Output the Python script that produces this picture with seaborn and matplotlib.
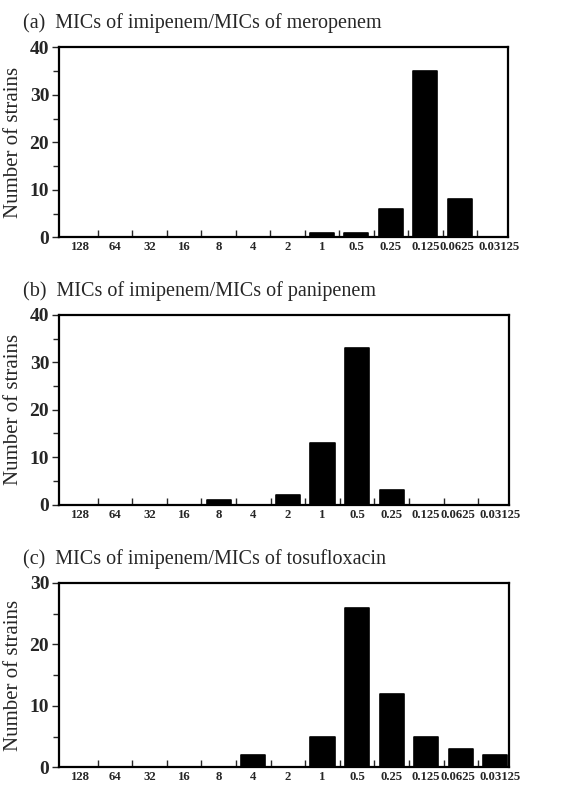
import pandas as pd
import matplotlib.pyplot as plt
import matplotlib.transforms as mtransforms
import seaborn as sns
from matplotlib.ticker import MultipleLocator, FixedLocator

# data
ratios = ["128", "64", "32", "16", "8", "4", "2", "1", "0.5", "0.25", "0.125", "0.0625", "0.03125"]
meropenem = [0, 0, 0, 0, 0, 0, 0, 1, 1, 6, 35, 8, 0]
panipenem = [0, 0, 0, 0, 1, 0, 2, 13, 33, 3, 0, 0, 0]
tosufloxacin = [0, 0, 0, 0, 0, 2, 0, 5, 26, 12, 5, 3, 2]

titles = ["(a)  MICs of imipenem/MICs of meropenem",
          "(b)  MICs of imipenem/MICs of panipenem",
          "(c)  MICs of imipenem/MICs of tosufloxacin"]
ymax = [40, 40, 30]

sns.set_style("ticks")
plt.rcParams['font.family'] = ['Liberation Serif', 'DejaVu Serif']

fig = plt.figure(figsize=(5.78, 7.91), dpi=100)

# axes boxes in figure coords (left, bottom, width, height)
boxes = [(0.102, 0.700, 0.777, 0.240),
         (0.102, 0.362, 0.779, 0.240),
         (0.102, 0.030, 0.779, 0.233)]
title_y = [0.971, 0.632, 0.293]

for series, title, top, box, ty in zip([meropenem, panipenem, tosufloxacin],
                                        titles, ymax, boxes, title_y):
    ax = fig.add_axes(box)
    df = pd.DataFrame({"ratio": ratios, "count": series})
    sns.barplot(data=df, x="ratio", y="count", order=ratios, color="black",
                width=0.7, saturation=1, ax=ax)
    for p in ax.patches:
        p.set_edgecolor("black")
        p.set_linewidth(1.2)
        p.set_joinstyle("round")

    ax.set_xlim(-0.62, 12.4)
    ax.set_ylim(0, top)
    ax.yaxis.set_major_locator(MultipleLocator(10))
    ax.yaxis.set_minor_locator(MultipleLocator(5))
    ax.xaxis.set_minor_locator(FixedLocator([i + 0.5 for i in range(12)]))

    ax.tick_params(axis="x", which="major", length=0, pad=3)
    ax.tick_params(axis="x", which="minor", direction="in", length=5, width=1)
    ax.tick_params(axis="y", which="major", direction="out", length=5, width=1, pad=2)
    ax.tick_params(axis="y", which="minor", direction="out", length=4, width=1)

    xlabels = ax.get_xticklabels()
    for lab in xlabels:
        lab.set_fontsize(9.2)
        lab.set_fontweight("bold")
    # the last two labels are nudged apart, as in the print
    for lab, dx in [(xlabels[-2], -3), (xlabels[-1], 5)]:
        lab.set_transform(lab.get_transform() +
                          mtransforms.ScaledTranslation(dx / 100, 0, fig.dpi_scale_trans))
    for lab in ax.get_yticklabels():
        lab.set_fontsize(14)
        lab.set_fontweight("bold")

    for s in ax.spines.values():
        s.set_visible(True)
        s.set_linewidth(1.6)
        s.set_color("black")

    ax.set_xlabel("")
    ax.set_ylabel("Number of strains", fontsize=15, labelpad=5)
    fig.text(0.04, ty, title, fontsize=14.5, ha="left", va="center")

plt.savefig("out.png", dpi=100)
